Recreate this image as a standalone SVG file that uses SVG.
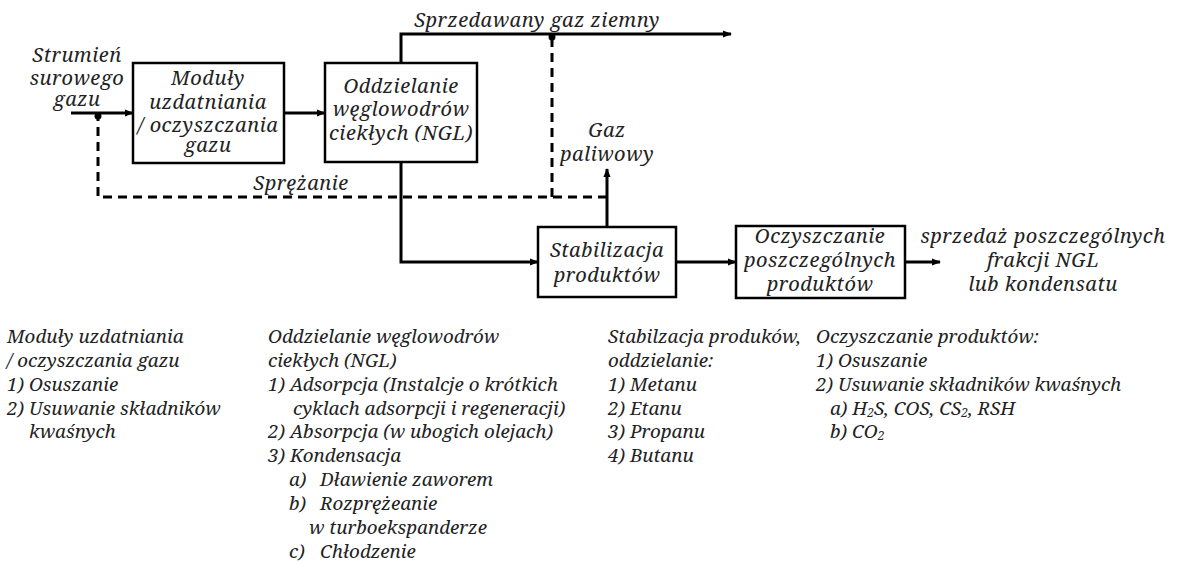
<svg xmlns="http://www.w3.org/2000/svg" width="1190" height="566" viewBox="0 0 1190 566">
<style>
text{font-family:"Noto Serif","DejaVu Serif",serif;font-style:italic;fill:#222;font-size:18.8px}
.c{text-anchor:middle}
.box{fill:#fff;stroke:#000;stroke-width:2.5}
.ln{fill:none;stroke:#000;stroke-width:3}
.ds{fill:none;stroke:#000;stroke-width:3;stroke-dasharray:9,6}
.bt{font-size:20px;letter-spacing:0.5px}
</style>
<defs>
<marker id="ah" viewBox="0 0 10 10" refX="9" refY="5" markerWidth="3" markerHeight="3" orient="auto" markerUnits="strokeWidth">
<path d="M0,1 L10,5 L0,9 z" fill="#000"/>
</marker>
</defs>
<g id="connectors">
<path class="ln" d="M71,113 H133" marker-end="url(#ah)"/>
<path class="ln" d="M284,113 H325" marker-end="url(#ah)"/>
<path class="ln" d="M401,63 V34 H731" marker-end="url(#ah)"/>
<path class="ln" d="M401,163 V262 H538" marker-end="url(#ah)"/>
<path class="ln" d="M607,227 V169" marker-end="url(#ah)"/>
<path class="ln" d="M676,262 H736" marker-end="url(#ah)"/>
<path class="ln" d="M905,262 H940" marker-end="url(#ah)"/>
<path class="ds" d="M552,38 V197"/>
<path class="ds" d="M607,197 H98 V116"/>
<circle cx="98" cy="116" r="3.5"/>
<circle cx="552" cy="37" r="3.5"/>
<text class="c bt" x="537" y="27">Sprzedawany gaz ziemny</text>
<text class="c bt" x="301" y="190">Sprężanie</text>
<text class="c bt" x="607" y="137">Gaz</text>
<text class="c bt" x="607" y="161">paliwowy</text>
</g>
<g id="input">
<text class="c bt" x="77" y="62">Strumień</text>
<text class="c bt" x="77" y="85">surowego</text>
<text class="c bt" x="77" y="106">gazu</text>
</g>
<g id="node-moduly">
<rect class="box" x="133" y="63" width="151" height="100"/>
<text class="c bt" x="208" y="85">Moduły</text>
<text class="c bt" x="208" y="109">uzdatniania</text>
<text class="c bt" x="208" y="132">/ oczyszczania</text>
<text class="c bt" x="208" y="152">gazu</text>
</g>
<g id="node-oddzielanie">
<rect class="box" x="325" y="63" width="152" height="99"/>
<text class="c bt" x="401" y="93">Oddzielanie</text>
<text class="c bt" x="401" y="116">węglowodrów</text>
<text class="c bt" x="401" y="140">ciekłych (NGL)</text>
</g>
<g id="node-stabilizacja">
<rect class="box" x="538" y="227" width="138" height="70"/>
<text class="c bt" x="607" y="257">Stabilizacja</text>
<text class="c bt" x="607" y="282">produktów</text>
</g>
<g id="node-oczyszczanie">
<rect class="box" x="736" y="226" width="169" height="72"/>
<text class="c bt" x="820" y="243">Oczyszczanie</text>
<text class="c bt" x="820" y="267">poszczególnych</text>
<text class="c bt" x="820" y="291">produktów</text>
</g>
<g id="output">
<text class="c bt" x="1043" y="243">sprzedaż poszczególnych</text>
<text class="c bt" x="1043" y="267">frakcji NGL</text>
<text class="c bt" x="1043" y="291">lub kondensatu</text>
</g>
<g id="notes">
<text x="7" y="343">Moduły uzdatniania</text>
<text x="7" y="367">/ oczyszczania gazu</text>
<text x="7" y="391">1) Osuszanie</text>
<text x="7" y="415">2) Usuwanie składników</text>
<text x="29" y="438">kwaśnych</text>
<text x="268" y="343">Oddzielanie węglowodrów</text>
<text x="268" y="367">ciekłych (NGL)</text>
<text x="268" y="391">1) Adsorpcja (Instalcje o krótkich</text>
<text x="293" y="415">cyklach adsorpcji i regeneracji)</text>
<text x="268" y="438">2) Absorpcja (w ubogich olejach)</text>
<text x="268" y="462">3) Kondensacja</text>
<text x="289" y="486">a)<tspan x="320">Dławienie zaworem</tspan></text>
<text x="289" y="510">b)<tspan x="320">Rozprężeanie</tspan></text>
<text x="309" y="534">w turboekspanderze</text>
<text x="289" y="558">c)<tspan x="320">Chłodzenie</tspan></text>
<text x="608" y="343">Stabilzacja produków,</text>
<text x="608" y="367">oddzielanie:</text>
<text x="608" y="391">1) Metanu</text>
<text x="608" y="415">2) Etanu</text>
<text x="608" y="438">3) Propanu</text>
<text x="608" y="462">4) Butanu</text>
<text x="816" y="343">Oczyszczanie produktów:</text>
<text x="816" y="367">1) Osuszanie</text>
<text x="816" y="391">2) Usuwanie składników kwaśnych</text>
<text x="830" y="415">a) H<tspan font-size="12" dy="2">2</tspan><tspan dy="-2">S, COS, CS</tspan><tspan font-size="12" dy="2">2</tspan><tspan dy="-2">, RSH</tspan></text>
<text x="830" y="438">b) CO<tspan font-size="12" dy="2">2</tspan></text>
</g>
</svg>
